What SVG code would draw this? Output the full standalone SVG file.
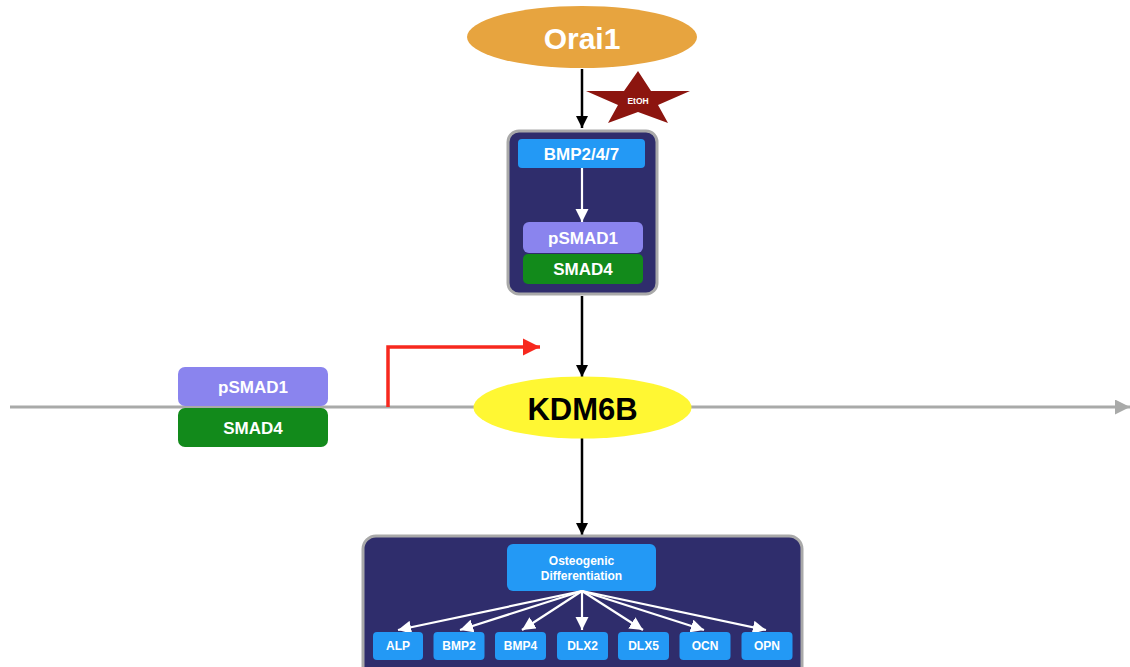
<svg xmlns="http://www.w3.org/2000/svg" width="1130" height="667" viewBox="0 0 1130 667">
<style>
text{font-family:"Liberation Sans",Arial,sans-serif;font-weight:bold;text-anchor:middle;dominant-baseline:central}
.w{fill:#fff}
.panel{fill:#2f2d6c;stroke:#a9a9a9;stroke-width:3}
.blue{fill:#2399f5}
.purple{fill:#8a84ee}
.green{fill:#128a1b}
.blk{stroke:#000;stroke-width:2.5;fill:none}
.wht{stroke:#fff;stroke-width:2.2;fill:none}
</style>
<defs>
<marker id="ab" viewBox="0 0 10 10" refX="10" refY="5" markerWidth="5" markerHeight="5" markerUnits="strokeWidth" orient="auto"><path d="M0,0L10,5L0,10z" fill="#000"/></marker>
<marker id="aw" viewBox="0 0 10 10" refX="10" refY="5" markerWidth="6" markerHeight="6" markerUnits="strokeWidth" orient="auto"><path d="M0,0L10,5L0,10z" fill="#fff"/></marker>
<marker id="ar" viewBox="0 0 10 10" refX="10" refY="5" markerWidth="5" markerHeight="5" markerUnits="strokeWidth" orient="auto"><path d="M0,0L10,5L0,10z" fill="#f7281e"/></marker>
<marker id="ag" viewBox="0 0 10 10" refX="10" refY="5" markerWidth="5" markerHeight="5" markerUnits="strokeWidth" orient="auto"><path d="M0,0L10,5L0,10z" fill="#a9aaa9"/></marker>
</defs>

<g id="dna">
<line x1="10" y1="407" x2="1130" y2="407" stroke="#a9aaa9" stroke-width="3" marker-end="url(#ag)"/>
</g>

<g id="connectors">
<line class="blk" x1="582" y1="69" x2="582" y2="128" marker-end="url(#ab)"/>
<line class="blk" x1="582" y1="296" x2="582" y2="377" marker-end="url(#ab)"/>
<line class="blk" x1="582" y1="438" x2="582" y2="535" marker-end="url(#ab)"/>
<polyline points="388,407 388,347 540,347" stroke="#f7281e" stroke-width="3.5" fill="none" marker-end="url(#ar)"/>
</g>

<g id="orai1">
<ellipse cx="582" cy="37" rx="115" ry="31" fill="#e7a43f"/>
<text x="582" y="38" class="w" font-size="30">Orai1</text>
</g>

<g id="etoh">
<polygon points="638,71 651,91 690,91 658,105 668,123 638,112 608,123 618,105 586,91 624,91" fill="#8c150f"/>
<text x="638" y="101" class="w" font-size="8.5">EtOH</text>
</g>

<g id="bmp-complex">
<rect class="panel" x="508" y="131" width="149" height="163" rx="11"/>
<rect class="blue" x="518" y="139" width="127" height="29" rx="4"/>
<text x="581.5" y="154" class="w" font-size="17">BMP2/4/7</text>
<line class="wht" x1="582" y1="168" x2="582" y2="222" marker-end="url(#aw)"/>
<rect class="purple" x="523" y="222" width="120" height="31" rx="6"/>
<text x="583" y="238" class="w" font-size="17">pSMAD1</text>
<rect class="green" x="523" y="254" width="120" height="30" rx="5"/>
<text x="583" y="269" class="w" font-size="17">SMAD4</text>
</g>

<g id="smad-left">
<rect class="purple" x="178" y="367" width="150" height="39" rx="7"/>
<text x="253" y="387" class="w" font-size="17">pSMAD1</text>
<rect class="green" x="178" y="408" width="150" height="39" rx="7"/>
<text x="253" y="428" class="w" font-size="17">SMAD4</text>
</g>

<g id="kdm6b">
<ellipse cx="582.5" cy="407.5" rx="109" ry="31" fill="#fff733"/>
<text x="582.5" y="409" font-size="31" fill="#000">KDM6B</text>
</g>

<g id="osteo-panel">
<rect class="panel" x="363" y="536" width="439" height="145" rx="13"/>
<rect class="blue" x="507" y="544" width="149" height="47" rx="6"/>
<text x="581.5" y="561" class="w" font-size="12">Osteogenic</text>
<text x="581.5" y="576" class="w" font-size="12">Differentiation</text>
<g>
<line x1="582" y1="591" x2="398" y2="630" marker-end="url(#aw)" class="wht"/>
<line x1="582" y1="591" x2="460" y2="630" marker-end="url(#aw)" class="wht"/>
<line x1="582" y1="591" x2="522" y2="630" marker-end="url(#aw)" class="wht"/>
<line x1="582" y1="591" x2="582" y2="630" marker-end="url(#aw)" class="wht"/>
<line x1="582" y1="591" x2="643" y2="630" marker-end="url(#aw)" class="wht"/>
<line x1="582" y1="591" x2="704" y2="630" marker-end="url(#aw)" class="wht"/>
<line x1="582" y1="591" x2="766" y2="630" marker-end="url(#aw)" class="wht"/>
</g>
</g>

<g id="alp"><rect class="blue" x="373" y="632" width="50" height="28" rx="4"/><text x="398" y="646" class="w" font-size="12">ALP</text></g>
<g id="bmp2"><rect class="blue" x="433.5" y="632" width="51" height="28" rx="4"/><text x="459" y="646" class="w" font-size="12">BMP2</text></g>
<g id="bmp4"><rect class="blue" x="495" y="632" width="51" height="28" rx="4"/><text x="520.5" y="646" class="w" font-size="12">BMP4</text></g>
<g id="dlx2"><rect class="blue" x="557" y="632" width="51" height="28" rx="4"/><text x="582.5" y="646" class="w" font-size="12">DLX2</text></g>
<g id="dlx5"><rect class="blue" x="618" y="632" width="51" height="28" rx="4"/><text x="643.5" y="646" class="w" font-size="12">DLX5</text></g>
<g id="ocn"><rect class="blue" x="679.5" y="632" width="51" height="28" rx="4"/><text x="705" y="646" class="w" font-size="12">OCN</text></g>
<g id="opn"><rect class="blue" x="741.5" y="632" width="51" height="28" rx="4"/><text x="767" y="646" class="w" font-size="12">OPN</text></g>
</svg>
